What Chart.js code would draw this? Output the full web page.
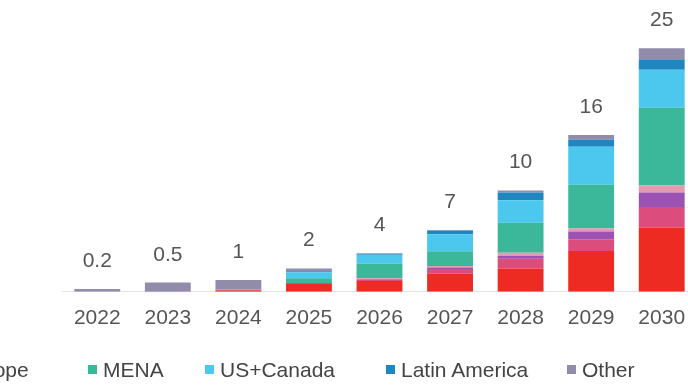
<!DOCTYPE html>
<html>
<head>
<meta charset="utf-8">
<script src="https://cdn.jsdelivr.net/npm/chart.js@4.4.1/dist/chart.umd.min.js"></script>
<style>
  html, body { margin: 0; padding: 0; background: #fff; overflow: hidden; }
  #wrap { position: relative; width: 688px; height: 385px; overflow: hidden; }
  #chart { position: absolute; left: 0; top: 0; }
  #legend { position: absolute; left: 0; top: 0; width: 688px; height: 385px; pointer-events: none; }
  .item { position: absolute; top: 358px; height: 24px; line-height: 24px; white-space: nowrap;
          font-family: "Liberation Sans", Arial, sans-serif; font-size: 21px; color: #444; }
  .box { position: absolute; left: 0; top: 7px; width: 9px; height: 9px; }
  .txt { position: absolute; left: 15px; top: 0; }
</style>
</head>
<body>
<div id="wrap">
  <canvas id="chart" width="720" height="385"></canvas>
  <div id="legend"></div>
</div>
<script>
var years = ['2022', '2023', '2024', '2025', '2026', '2027', '2028', '2029', '2030'];
var totalLabels = ['0.2', '0.5', '1', '2', '4', '7', '10', '16', '25'];

var seriesNames = ['China', 'India', 'Rest of Asia', 'Europe', 'MENA', 'US+Canada', 'Latin America', 'Other'];
var seriesColors = ['#ee2b22', '#dc4c7c', '#9c52b2', '#e899b2', '#3bb89a', '#4cc7ee', '#1f86c0', '#928cab'];

var china    = [0,   0,   0.15, 0.8, 1.1,  1.85, 2.4, 4.2, 6.6];
var india    = [0,   0,   0,    0.1, 0.2,  0.5,  1.0, 1.2, 2.1];
var restAsia = [0,   0,   0,    0,   0,    0.15, 0.3, 0.8, 1.5];
var europe   = [0,   0,   0,    0,   0.1,  0.15, 0.3, 0.3, 0.7];
var mena     = [0,   0,   0,    0.5, 1.5,  1.5,  3.1, 4.5, 8.0];
var usCanada = [0,   0,   0.05, 0.6, 0.9,  1.75, 2.3, 3.9, 3.9];
var latAm    = [0,   0.05,0,    0.1, 0.1,  0.4,  0.8, 0.7, 1.0];
var other    = [0.3, 0.9, 1.0,  0.3, 0.05, 0.05, 0.2, 0.5, 1.2];

var seriesData = [china, india, restAsia, europe, mena, usCanada, latAm, other];

// legend marker x positions (the first items sit off the left edge, as in the cropped source)
var legendX = [-420, -300, -180, -54, 88, 205, 386, 567];

var datasets = seriesNames.map(function (name, i) {
    return {
        label: name,
        data: seriesData[i],
        backgroundColor: seriesColors[i],
        borderWidth: 0,
        categoryPercentage: 1,
        barPercentage: 0.65
    };
});

var totalsPlugin = {
    id: 'totals',
    afterDatasetsDraw: function (chart) {
        var ctx = chart.ctx;
        var y = chart.scales.y;
        var x = chart.scales.x;
        ctx.save();
        ctx.font = '21px "Liberation Sans", Arial, sans-serif';
        ctx.fillStyle = '#555';
        ctx.textAlign = 'center';
        ctx.textBaseline = 'alphabetic';
        years.forEach(function (yr, j) {
            var sum = 0;
            seriesData.forEach(function (s) { sum += s[j]; });
            ctx.fillText(totalLabels[j], x.getPixelForValue(j), y.getPixelForValue(sum) - 22);
        });
        ctx.restore();
    }
};

var chart = new Chart(document.getElementById('chart'), {
    type: 'bar',
    data: { labels: years, datasets: datasets },
    options: {
        responsive: false,
        animation: false,
        layout: { padding: { left: 62, right: 23, top: 19, bottom: 40 } },
        plugins: { legend: { display: false }, tooltip: { enabled: false } },
        scales: {
            x: {
                stacked: true,
                grid: { display: false, drawTicks: false },
                border: { display: true, color: '#e4e4e4', dash: [2, 3] },
                ticks: {
                    color: '#555',
                    padding: 14,
                    font: { family: '"Liberation Sans", Arial, sans-serif', size: 21 }
                }
            },
            y: {
                stacked: true,
                display: false,
                min: 0,
                max: 28
            }
        }
    },
    plugins: [totalsPlugin]
});

var legend = document.getElementById('legend');
seriesNames.forEach(function (name, i) {
    var item = document.createElement('div');
    item.className = 'item';
    item.style.left = legendX[i] + 'px';
    var box = document.createElement('span');
    box.className = 'box';
    box.style.background = seriesColors[i];
    var txt = document.createElement('span');
    txt.className = 'txt';
    txt.textContent = name;
    item.appendChild(box);
    item.appendChild(txt);
    legend.appendChild(item);
});
</script>
</body>
</html>
